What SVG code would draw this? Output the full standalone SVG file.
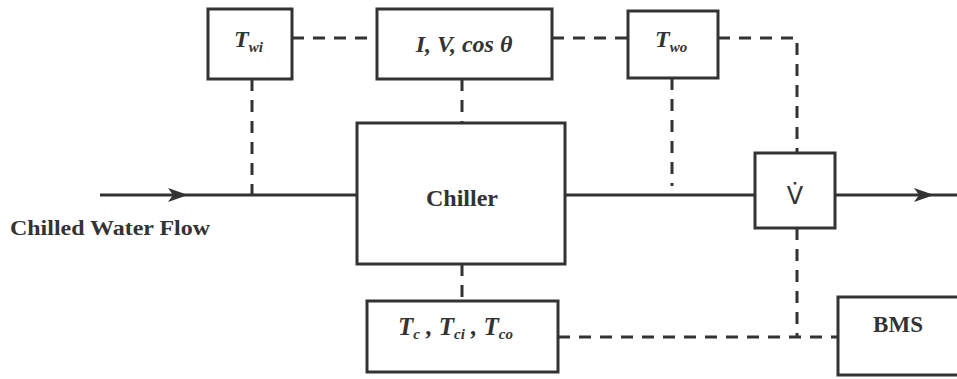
<svg xmlns="http://www.w3.org/2000/svg" width="957" height="379" viewBox="0 0 957 379">
<style>
.box{fill:#fff;stroke:#333;stroke-width:3}
.flow{fill:none;stroke:#333;stroke-width:3}
.sig{fill:none;stroke:#333;stroke-width:3;stroke-dasharray:12 9}
.t{font-family:"Liberation Serif",serif;font-weight:bold;fill:#333}
.it{font-style:italic}
.sub{font-size:15px}
</style>
<defs>
<marker id="arr" viewBox="0 0 20 14" refX="18" refY="7" markerWidth="20" markerHeight="14" markerUnits="userSpaceOnUse" orient="auto">
<path d="M0,0 L20,7 L0,14 L5,7 Z" fill="#333"/>
</marker>
</defs>
<rect width="957" height="379" fill="#fff"/>
<g id="connectors">
<path class="flow" d="M100,195 L186,195" marker-end="url(#arr)"/>
<path class="flow" d="M186,195 L357,195"/>
<path class="flow" d="M565,195 L755,195"/>
<path class="flow" d="M835,195 L932,195" marker-end="url(#arr)"/>
<path class="flow" d="M932,195 L957,195"/>
<path class="sig" d="M292,38 L377,38"/>
<path class="sig" d="M552,38 L628,38"/>
<path class="sig" d="M718,38 L797,38 L797,153"/>
<path class="sig" d="M252,79 L252,195"/>
<path class="sig" d="M462,79 L462,123"/>
<path class="sig" d="M672,78 L672,186"/>
<path class="sig" d="M462,264 L462,301"/>
<path class="sig" d="M797,228 L797,337"/>
<path class="sig" d="M558,337 L838,337"/>
</g>
<g id="twi">
<rect class="box" x="208" y="9" width="84" height="70"/>
<text class="t it" x="234" y="47" font-size="24">T<tspan class="sub" dy="5">wi</tspan></text>
</g>
<g id="ivcos">
<rect class="box" x="377" y="9" width="175" height="70"/>
<text class="t it" x="464" y="52" font-size="24" text-anchor="middle">I, V, cos  θ</text>
</g>
<g id="two">
<rect class="box" x="628" y="11" width="90" height="67"/>
<text class="t it" x="655" y="47" font-size="24">T<tspan class="sub" dy="5">wo</tspan></text>
</g>
<g id="chiller">
<rect class="box" x="357" y="123" width="208" height="141"/>
<text class="t" x="462" y="206" font-size="24" text-anchor="middle">Chiller</text>
</g>
<g id="vdot">
<rect class="box" x="755" y="153" width="80" height="75"/>
<text x="795" y="204" font-family="DejaVu Sans, sans-serif" font-size="24" fill="#333" text-anchor="middle">V̇</text>
</g>
<g id="tc">
<rect class="box" x="367" y="301" width="191" height="71"/>
<text class="t it" x="398" y="335" font-size="25">T<tspan class="sub" font-size="16" dy="4">c</tspan><tspan dy="-4"> , T</tspan><tspan class="sub" font-size="16" dy="4">ci</tspan><tspan dy="-4"> , T</tspan><tspan class="sub" font-size="16" dy="4">co</tspan></text>
</g>
<g id="bms">
<rect class="box" x="838" y="297" width="130" height="78"/>
<text class="t" x="898" y="332" font-size="23" text-anchor="middle">BMS</text>
</g>
<text class="t" x="10" y="235" font-size="21" textLength="200" lengthAdjust="spacingAndGlyphs">Chilled Water Flow</text>
</svg>
